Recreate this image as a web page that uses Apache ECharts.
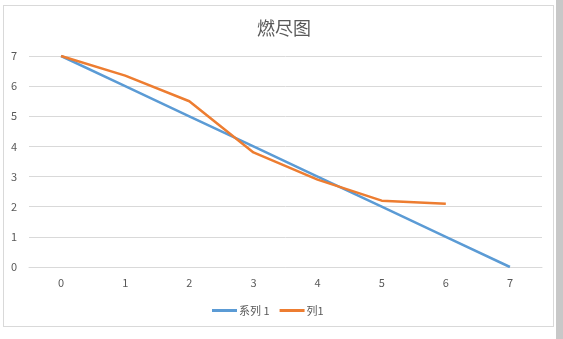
<!DOCTYPE html>
<html><head><meta charset="utf-8">
<script src="https://cdn.jsdelivr.net/npm/echarts@6/dist/echarts.min.js"></script>
<style>html,body{margin:0;padding:0;background:#fff;}#wrap{position:absolute;left:3px;top:5px;width:551px;height:322px;border:1px solid #d9d9d9;box-sizing:border-box;}#c{position:absolute;left:0;top:0;width:563px;height:339px;}#sb{position:absolute;left:556px;top:0;width:7px;height:339px;background:#c8c8c8;}</style>
</head><body>
<div id="wrap"></div>
<div id="sb"></div>
<div id="c"></div>
<script>
var categories = ['0','1','2','3','4','5','6','7'];
var series1 = [7,6,5,4,3,2,1,0];
var col1 = [7,6.35,5.5,3.8,2.9,2.2,2.1];
var yTicks = [0,1,2,3,4,5,6,7];
var chart = echarts.init(document.getElementById('c'));
var font = '"Noto Sans CJK SC", "Microsoft YaHei", sans-serif';
chart.setOption({
  animation:false,
  title:{text:'燃尽图',left:279,textAlign:'center',top:14,textStyle:{color:'#595959',fontSize:18,fontWeight:'normal',fontFamily:font}},
  legend:{bottom:18,left:207,itemWidth:25,itemHeight:3,itemGap:10,icon:'rect',textStyle:{color:'#595959',fontSize:11,fontFamily:font,padding:[0,0,0,-3]},data:['系列 1','列1']},
  grid:{left:29,right:21,top:56,bottom:72,containLabel:false},
  xAxis:{type:'category',data:categories,boundaryGap:true,axisLine:{show:true,lineStyle:{color:'#d9d9d9'}},axisTick:{show:false},axisLabel:{color:'#595959',fontSize:11,margin:10,fontFamily:font}},
  yAxis:{type:'value',min:0,max:7,interval:1,axisLine:{show:false},axisTick:{show:false},splitLine:{lineStyle:{color:'#d9d9d9'}},axisLabel:{color:'#595959',fontSize:11,margin:12,fontFamily:font,formatter:function(v){return yTicks.indexOf(v)>=0?String(v):'';}}},
  series:[
    {name:'系列 1',type:'line',data:series1,symbol:'none',lineStyle:{color:'#5B9BD5',width:2.5},itemStyle:{color:'#5B9BD5'}},
    {name:'列1',type:'line',data:col1,symbol:'none',lineStyle:{color:'#ED7D31',width:2.5},itemStyle:{color:'#ED7D31'}}
  ]
});
</script>
</body></html>
